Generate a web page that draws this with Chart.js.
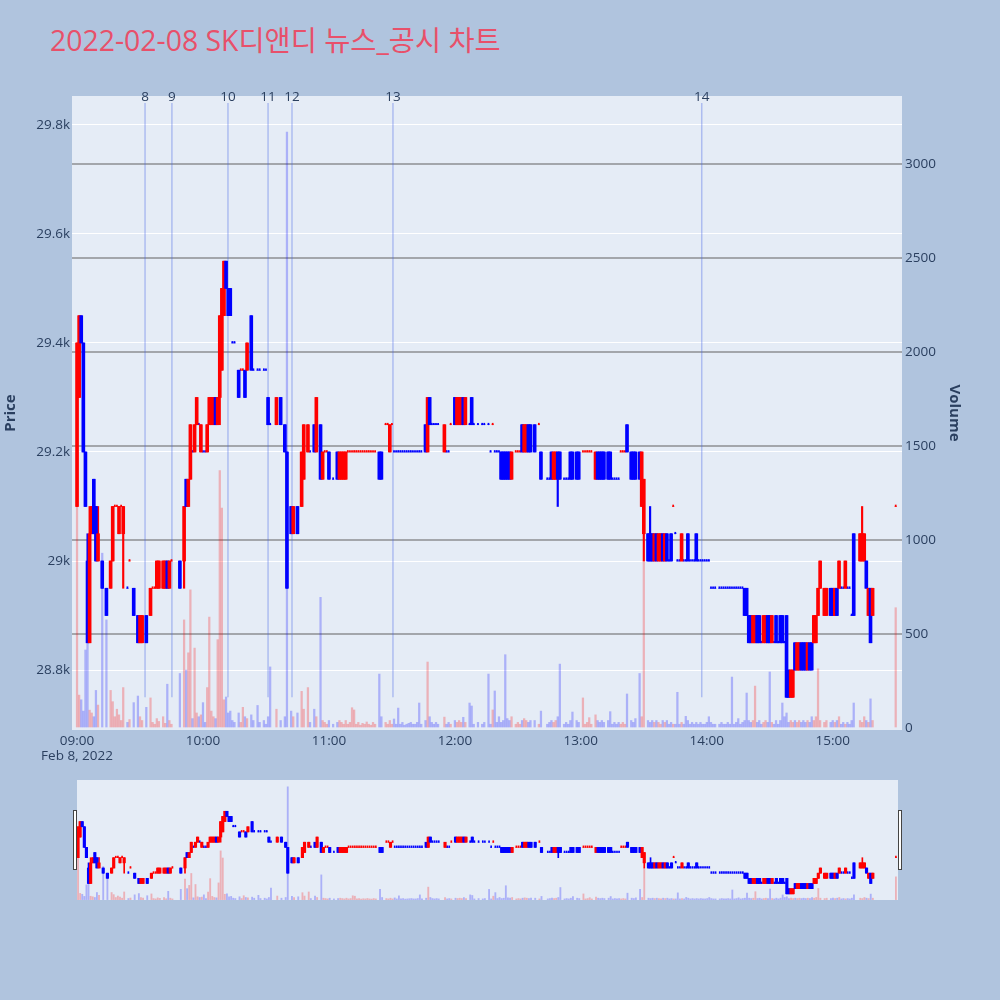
<!DOCTYPE html>
<html>
<head>
<meta charset="utf-8">
<script src="https://cdn.jsdelivr.net/npm/chart.js@4.4.0/dist/chart.umd.min.js"></script>
<style>
  body { margin: 0; width: 1000px; height: 1000px; overflow: hidden; position: relative; background: #b0c4de;
         font-family: "Open Sans", "Noto Sans CJK KR", sans-serif; }
  #title { position: absolute; left: 50px; top: 21px; font-size: 28.4px; line-height: 38px; color: #e8506a; white-space: nowrap; }
  #main { position: absolute; left: 0; top: 0; }
  #slider { position: absolute; left: 67px; top: 780px; }
</style>
</head>
<body>
<div id="title">2022-02-08 SK디앤디 뉴스_공시 차트</div>
<canvas id="main" width="1000" height="780"></canvas>
<canvas id="slider" width="841" height="120"></canvas>
<script>
// minutes after 09:00, one row of 10 candles per line
const minutes = [
  0,1,2,3,4,5,6,7,8,9,
  10,12,14,16,17,18,19,20,21,22,
  24,25,27,29,30,31,33,35,36,37,
  38,39,41,42,43,44,45,49,51,52,
  53,54,55,56,57,58,59,60,61,62,
  63,64,65,66,67,68,69,70,71,72,
  73,74,75,77,78,79,80,81,83,84,
  86,87,89,90,91,92,95,97,99,100,
  102,103,105,107,108,110,111,113,114,116,
  117,118,119,120,122,124,125,126,127,128,
  129,130,131,132,133,134,135,136,137,138,
  139,140,141,142,144,145,147,148,149,150,
  151,152,153,154,155,156,157,158,159,160,
  161,162,163,164,166,167,168,169,170,171,
  172,175,176,177,178,180,181,182,183,184,
  185,187,188,189,191,193,194,196,197,198,
  199,200,201,202,203,204,205,206,207,209,
  210,211,212,213,214,215,216,218,220,221,
  224,225,226,227,228,229,230,232,233,234,
  235,236,238,239,241,242,243,244,245,247,
  248,249,250,251,253,254,255,256,257,258,
  259,260,261,262,264,265,266,268,269,270,
  272,273,274,275,276,277,278,279,280,281,
  282,283,284,285,286,287,288,289,290,291,
  292,293,294,295,296,297,298,299,300,301,
  302,303,304,306,307,308,309,310,311,312,
  313,314,315,316,317,318,319,320,321,322,
  323,324,325,326,327,328,329,330,331,332,
  333,334,335,336,337,338,339,340,341,342,
  343,344,345,346,347,348,349,350,351,352,
  353,354,356,357,359,360,361,362,363,364,
  365,366,367,368,369,370,373,374,375,376,
  377,378,379,390
];
const opens = [
  29100,29300,29450,29400,29200,29000,28850,29050,29150,29100,
  29000,29000,28950,28950,29000,29100,29100,29050,29100,29050,
  28950,29000,28950,28900,28850,28850,28900,28900,28950,28950,
  28950,28950,28950,28950,29000,28950,29000,29000,29000,29150,
  29100,29150,29200,29200,29250,29250,29200,29200,29200,29200,
  29250,29250,29250,29300,29250,29300,29350,29450,29550,29500,
  29500,29400,29400,29350,29350,29350,29350,29350,29450,29350,
  29350,29350,29350,29350,29300,29250,29250,29300,29250,29200,
  29100,29050,29100,29100,29150,29200,29200,29250,29200,29250,
  29150,29200,29200,29200,29150,29200,29150,29150,29150,29150,
  29200,29200,29200,29200,29200,29200,29200,29200,29200,29200,
  29200,29200,29200,29200,29200,29200,29250,29250,29200,29250,
  29200,29200,29200,29200,29200,29200,29200,29200,29200,29200,
  29200,29200,29200,29200,29250,29200,29300,29250,29250,29250,
  29250,29200,29200,29200,29250,29300,29250,29250,29250,29300,
  29250,29250,29300,29250,29250,29250,29250,29250,29200,29250,
  29200,29200,29200,29200,29200,29200,29200,29200,29150,29200,
  29200,29200,29250,29200,29200,29250,29250,29250,29250,29200,
  29150,29150,29200,29150,29150,29200,29200,29150,29150,29150,
  29200,29200,29200,29200,29200,29200,29200,29200,29200,29150,
  29200,29200,29200,29200,29200,29200,29150,29150,29150,29150,
  29200,29200,29200,29250,29200,29200,29200,29200,29100,29050,
  29050,29050,29050,29000,29050,29000,29000,29050,29000,29050,
  29000,29050,29100,29050,29000,29000,29000,29000,29000,29050,
  29000,29000,29000,29050,29000,29000,29000,29000,29000,29000,
  28950,28950,28950,28950,28950,28950,28950,28950,28950,28950,
  28950,28950,28950,28950,28950,28950,28950,28900,28900,28850,
  28850,28900,28900,28850,28850,28850,28900,28900,28850,28850,
  28900,28850,28900,28900,28850,28900,28800,28750,28750,28850,
  28800,28800,28850,28850,28850,28800,28850,28850,28850,28850,
  28900,28950,28900,28900,28950,28950,28900,28950,28950,28950,
  28950,28950,28950,28950,28900,29050,29000,29000,29000,29000,
  28900,28950,28900,29100
];
const highs = [
  29400,29450,29450,29400,29200,29050,29100,29100,29150,29100,
  29100,29000,28950,29000,29100,29100,29100,29100,29100,29100,
  28950,29000,28950,28900,28900,28900,28900,28950,28950,28950,
  29000,29000,29000,29000,29000,29000,29000,29000,29100,29150,
  29150,29250,29200,29250,29300,29250,29250,29200,29200,29250,
  29300,29300,29300,29300,29300,29450,29500,29550,29550,29500,
  29500,29400,29400,29350,29350,29350,29350,29400,29450,29350,
  29350,29350,29350,29350,29300,29250,29300,29300,29250,29200,
  29100,29100,29100,29200,29250,29250,29200,29250,29300,29250,
  29200,29200,29200,29200,29150,29200,29200,29200,29200,29200,
  29200,29200,29200,29200,29200,29200,29200,29200,29200,29200,
  29200,29200,29200,29200,29200,29200,29250,29250,29250,29250,
  29200,29200,29200,29200,29200,29200,29200,29200,29200,29200,
  29200,29200,29200,29200,29250,29300,29300,29250,29250,29250,
  29250,29250,29200,29200,29250,29300,29300,29300,29300,29300,
  29300,29250,29300,29250,29250,29250,29250,29250,29200,29250,
  29200,29200,29200,29200,29200,29200,29200,29200,29200,29200,
  29200,29200,29250,29250,29250,29250,29250,29250,29250,29200,
  29150,29150,29200,29200,29200,29200,29200,29150,29150,29150,
  29200,29200,29200,29200,29200,29200,29200,29200,29200,29200,
  29200,29200,29200,29200,29200,29200,29150,29150,29150,29150,
  29200,29200,29200,29250,29200,29200,29200,29200,29200,29150,
  29050,29100,29050,29050,29050,29050,29050,29050,29050,29050,
  29000,29050,29100,29050,29000,29000,29050,29000,29000,29050,
  29000,29000,29000,29050,29000,29000,29000,29000,29000,29000,
  28950,28950,28950,28950,28950,28950,28950,28950,28950,28950,
  28950,28950,28950,28950,28950,28950,28950,28900,28900,28900,
  28900,28900,28900,28850,28900,28900,28900,28900,28900,28850,
  28900,28850,28900,28900,28850,28900,28800,28800,28800,28850,
  28850,28850,28850,28850,28850,28850,28850,28850,28900,28900,
  28950,29000,28950,28950,28950,28950,28950,28950,29000,28950,
  28950,29000,28950,28950,28900,29050,29050,29100,29050,29000,
  28950,28950,28950,29100
];
const lows = [
  29100,29300,29400,29200,29100,28850,28850,29050,29050,29000,
  29000,28950,28900,28950,29000,29100,29100,29050,29100,28950,
  28950,29000,28900,28850,28850,28850,28850,28900,28950,28950,
  28950,28950,28950,28950,28950,28950,29000,28950,28950,29100,
  29100,29150,29200,29200,29250,29250,29200,29200,29200,29200,
  29250,29250,29250,29250,29250,29250,29350,29450,29500,29450,
  29450,29400,29400,29300,29350,29350,29300,29350,29350,29350,
  29350,29350,29350,29350,29250,29250,29250,29250,29200,28950,
  29050,29050,29050,29100,29150,29200,29200,29200,29200,29150,
  29150,29200,29200,29150,29150,29150,29150,29150,29150,29150,
  29200,29200,29200,29200,29200,29200,29200,29200,29200,29200,
  29200,29200,29200,29200,29150,29150,29250,29250,29200,29250,
  29200,29200,29200,29200,29200,29200,29200,29200,29200,29200,
  29200,29200,29200,29200,29200,29200,29250,29250,29250,29250,
  29250,29200,29200,29200,29250,29250,29250,29250,29250,29250,
  29250,29250,29250,29250,29250,29250,29250,29250,29200,29250,
  29200,29200,29200,29150,29150,29150,29150,29150,29150,29200,
  29200,29200,29200,29200,29200,29200,29200,29200,29250,29150,
  29150,29150,29150,29150,29150,29100,29150,29150,29150,29150,
  29150,29150,29150,29150,29200,29200,29200,29200,29200,29150,
  29150,29150,29150,29150,29150,29150,29150,29150,29150,29150,
  29200,29200,29200,29200,29150,29150,29150,29150,29100,29000,
  29000,29000,29000,29000,29000,29000,29000,29000,29000,29000,
  29000,29000,29100,29050,29000,29000,29000,29000,29000,29000,
  29000,29000,29000,29000,29000,29000,29000,29000,29000,29000,
  28950,28950,28950,28950,28950,28950,28950,28950,28950,28950,
  28950,28950,28950,28950,28950,28900,28900,28850,28850,28850,
  28850,28850,28850,28850,28850,28850,28850,28850,28850,28850,
  28850,28850,28850,28850,28850,28750,28750,28750,28750,28800,
  28800,28800,28800,28800,28800,28800,28800,28800,28850,28850,
  28900,28950,28900,28900,28900,28900,28900,28900,28950,28950,
  28950,28950,28950,28950,28900,28900,29000,29000,29000,28950,
  28900,28850,28900,29100
];
const closes = [
  29400,29450,29400,29200,29100,28850,29050,29100,29050,29000,
  29050,28950,28900,29000,29100,29100,29100,29100,29100,29100,
  28950,29000,28900,28850,28900,28900,28850,28950,28950,28950,
  29000,29000,29000,29000,28950,29000,29000,28950,29100,29100,
  29150,29250,29200,29250,29300,29250,29250,29200,29200,29250,
  29300,29300,29300,29250,29300,29450,29500,29550,29500,29450,
  29450,29400,29400,29300,29350,29350,29300,29400,29350,29350,
  29350,29350,29350,29350,29250,29250,29300,29250,29200,28950,
  29050,29100,29050,29200,29250,29250,29200,29200,29300,29150,
  29200,29200,29200,29150,29150,29150,29200,29200,29200,29200,
  29200,29200,29200,29200,29200,29200,29200,29200,29200,29200,
  29200,29200,29200,29200,29150,29150,29250,29250,29250,29250,
  29200,29200,29200,29200,29200,29200,29200,29200,29200,29200,
  29200,29200,29200,29200,29200,29300,29250,29250,29250,29250,
  29250,29250,29200,29200,29250,29250,29300,29300,29300,29250,
  29300,29250,29250,29250,29250,29250,29250,29250,29200,29250,
  29200,29200,29200,29150,29150,29150,29150,29150,29200,29200,
  29200,29200,29200,29250,29250,29200,29200,29200,29250,29150,
  29150,29150,29150,29200,29200,29150,29150,29150,29150,29150,
  29150,29150,29150,29150,29200,29200,29200,29200,29200,29200,
  29150,29150,29150,29150,29150,29150,29150,29150,29150,29150,
  29200,29200,29200,29200,29150,29150,29150,29150,29200,29150,
  29000,29000,29000,29050,29000,29050,29050,29000,29050,29000,
  29000,29000,29100,29050,29000,29000,29050,29000,29000,29000,
  29000,29000,29000,29000,29000,29000,29000,29000,29000,29000,
  28950,28950,28950,28950,28950,28950,28950,28950,28950,28950,
  28950,28950,28950,28950,28950,28900,28900,28850,28850,28900,
  28900,28850,28850,28850,28900,28900,28850,28850,28900,28850,
  28850,28850,28850,28850,28850,28750,28750,28800,28800,28800,
  28850,28850,28800,28800,28800,28850,28800,28800,28900,28900,
  28950,29000,28950,28950,28900,28900,28950,28900,29000,28950,
  28950,29000,28950,28950,28900,28900,29050,29050,29050,28950,
  28950,28850,28950,29100
];
const volumes = [
  1180,175,150,90,415,560,95,80,60,200,
  122,930,575,200,140,60,100,70,40,215,
  30,45,135,170,60,40,110,160,30,20,
  50,35,60,25,233,40,20,290,575,308,
  400,735,50,425,80,60,70,135,30,215,
  590,90,60,50,470,1370,1170,150,165,80,
  90,40,30,80,30,110,60,50,70,40,
  120,30,40,20,60,325,100,40,60,3170,
  90,60,80,195,100,215,30,100,60,695,
  40,30,20,40,20,30,40,30,20,40,
  20,30,108,96,20,30,15,25,20,32,
  20,15,30,20,287,60,30,20,40,20,
  48,20,106,20,30,15,20,25,30,20,
  20,30,133,20,40,351,60,30,20,30,
  20,58,20,30,20,40,30,40,30,57,
  30,133,117,20,30,20,30,287,20,96,
  197,30,60,30,40,390,50,40,60,20,
  30,20,40,50,40,30,40,40,20,90,
  20,30,40,30,40,60,340,20,30,20,
  40,85,40,30,160,20,30,55,20,70,
  40,30,40,30,40,87,20,30,20,30,
  20,30,20,181,40,30,50,290,60,890,
  40,30,40,30,40,30,20,40,30,40,
  20,30,20,20,190,20,30,20,62,40,
  20,30,20,30,20,30,20,20,30,60,
  30,20,20,20,30,20,20,30,20,271,
  20,30,50,20,30,40,186,40,30,40,
  223,30,40,20,30,40,30,298,30,20,
  40,20,40,133,60,80,30,40,30,40,
  30,40,30,40,30,40,30,60,40,60,
  315,40,30,40,30,40,30,40,60,20,
  30,20,30,20,40,133,40,30,60,40,
  30,155,40,640
];

// news / disclosure markers (minute after 09:00, label)
const newsMinutes = [32.4, 45.2, 71.9, 91, 102.4, 150.5, 297.6];
const newsLabels = ['8', '9', '10', '11', '12', '13', '14'];
const newsTop = 29840, newsBottom = 28750;

const tickMinutes = [0, 60, 120, 180, 240, 300, 360];
const tickLabels = ['09:00', '10:00', '11:00', '12:00', '13:00', '14:00', '15:00'];
const dateLabel = 'Feb 8, 2022';
const priceTicks = [28800, 29000, 29200, 29400, 29600, 29800];
const priceTickLabels = ['28.8k', '29k', '29.2k', '29.4k', '29.6k', '29.8k'];
const volTicks = [0, 500, 1000, 1500, 2000, 2500, 3000];
const volTickLabels = ['0', '500', '1000', '1500', '2000', '2500', '3000'];

const priceMin = 28690, priceMax = 29853;
const volMin = -10.6, volMax = 3362;

const axisColor = '#2a3f5f';
const fontFamily = '"Open Sans", "Noto Sans CJK KR", sans-serif';
const tickSize = 13.5;

// plotly style: a doji takes its direction from the previous close
const isUp = [];
for (let i = 0; i < minutes.length; i++) {
  let up;
  if (closes[i] > opens[i]) up = true;
  else if (closes[i] < opens[i]) up = false;
  else if (i === 0) up = true;
  else if (closes[i] > closes[i - 1]) up = true;
  else if (closes[i] < closes[i - 1]) up = false;
  else up = isUp[i - 1];
  isUp.push(up);
}
const colorOf = i => isUp[i] ? '#ff0000' : '#0000ff';
const idxAll = minutes.map((m, i) => i);
const idxBody = idxAll.filter(i => opens[i] !== closes[i]);
const idxDoji = idxAll.filter(i => opens[i] === closes[i]);

function buildDatasets(bodyW, dojiW, wickW, volW) {
  return [
    {
      label: 'body',
      data: idxBody.map(i => ({ x: minutes[i], y: [opens[i], closes[i]] })),
      backgroundColor: idxBody.map(colorOf),
      barThickness: bodyW,
      grouped: false,
      yAxisID: 'y'
    },
    {
      label: 'doji',
      data: idxDoji.map(i => ({ x: minutes[i], y: [opens[i], closes[i]] })),
      backgroundColor: idxDoji.map(colorOf),
      barThickness: dojiW,
      minBarLength: 1.5,
      grouped: false,
      yAxisID: 'y'
    },
    {
      label: 'wick',
      data: idxAll.map(i => ({ x: minutes[i], y: [lows[i], highs[i]] })),
      backgroundColor: idxAll.map(colorOf),
      barThickness: wickW,
      grouped: false,
      yAxisID: 'y'
    },
    {
      label: 'volume',
      data: idxAll.map(i => ({ x: minutes[i], y: volumes[i] })),
      backgroundColor: idxAll.map(i => isUp[i] ? 'rgba(255,0,0,0.25)' : 'rgba(0,0,255,0.25)'),
      barThickness: volW,
      grouped: false,
      yAxisID: 'yv'
    }
  ];
}

const plotBg = {
  id: 'plotBg',
  beforeDraw(chart) {
    const { ctx, chartArea: a } = chart;
    ctx.save();
    ctx.fillStyle = '#e5ecf6';
    ctx.fillRect(a.left, a.top, a.right - a.left, a.bottom - a.top);
    ctx.restore();
  }
};

const newsLines = {
  id: 'newsLines',
  beforeDatasetsDraw(chart) {
    const { ctx, scales } = chart;
    const yTop = scales.y.getPixelForValue(newsTop);
    const yBot = scales.y.getPixelForValue(newsBottom);
    ctx.save();
    ctx.strokeStyle = 'rgba(70,100,230,0.35)';
    ctx.lineWidth = 1.5;
    newsMinutes.forEach(m => {
      const x = scales.x.getPixelForValue(m);
      ctx.beginPath();
      ctx.moveTo(x, yTop);
      ctx.lineTo(x, yBot);
      ctx.stroke();
    });
    ctx.restore();
  },
  afterDraw(chart) {
    const { ctx, scales, chartArea } = chart;
    ctx.save();
    ctx.fillStyle = axisColor;
    ctx.font = tickSize + 'px ' + fontFamily;
    ctx.textAlign = 'center';
    ctx.textBaseline = 'middle';
    newsMinutes.forEach((m, i) => {
      ctx.fillText(newsLabels[i], scales.x.getPixelForValue(m), chartArea.top + 1);
    });
    ctx.restore();
  }
};

const sliderHandles = {
  id: 'sliderHandles',
  afterDraw(chart) {
    const { ctx, chartArea: a } = chart;
    ctx.save();
    ctx.fillStyle = '#ffffff';
    ctx.strokeStyle = '#444444';
    ctx.lineWidth = 1;
    [a.left - 4, a.right].forEach(x => {
      ctx.fillRect(x + 0.5, 30.5, 3, 59);
      ctx.strokeRect(x + 0.5, 30.5, 3, 59);
    });
    ctx.restore();
  }
};

new Chart(document.getElementById('main').getContext('2d'), {
  type: 'bar',
  data: { datasets: buildDatasets(3, 1.1, 1.5, 1.6) },
  options: {
    responsive: false,
    animation: false,
    layout: { padding: { top: 96, right: 30, bottom: 0, left: 0 } },
    plugins: { legend: { display: false }, tooltip: { enabled: false } },
    scales: {
      x: {
        type: 'linear', min: -2.4, max: 393, offset: false,
        grid: { display: false, drawTicks: false },
        border: { display: false },
        afterBuildTicks: s => { s.ticks = tickMinutes.map(v => ({ value: v })); },
        afterFit: s => { s.height = 50; },
        ticks: {
          autoSkip: false, maxRotation: 0, padding: 4, color: axisColor,
          font: { family: fontFamily, size: tickSize, lineHeight: 1.1 },
          callback: (v, i) => i === 0 ? [tickLabels[i], dateLabel] : tickLabels[i]
        }
      },
      y: {
        position: 'left', min: priceMin, max: priceMax,
        grid: { color: '#ffffff', lineWidth: 1, drawTicks: false },
        border: { display: false },
        afterBuildTicks: s => { s.ticks = priceTicks.map(v => ({ value: v })); },
        afterFit: s => { s.width = 72; },
        ticks: { padding: 2, color: axisColor, font: { family: fontFamily, size: tickSize },
                 callback: (v, i) => priceTickLabels[i] },
        title: { display: true, text: 'Price', color: axisColor, padding: { top: 2, bottom: 0 },
                 font: { family: fontFamily, size: 15, weight: 'bold' } }
      },
      yv: {
        position: 'right', min: volMin, max: volMax,
        grid: { color: c => (c.tick && c.tick.value === 0) ? 'rgba(0,0,0,0)' : 'rgba(110,110,110,0.55)',
                lineWidth: 2, drawTicks: false },
        border: { display: false },
        afterBuildTicks: s => { s.ticks = volTicks.map(v => ({ value: v })); },
        afterFit: s => { s.width = 68; },
        ticks: { padding: 3, color: axisColor, font: { family: fontFamily, size: tickSize },
                 callback: (v, i) => volTickLabels[i] },
        title: { display: true, text: 'Volume', color: axisColor, padding: { top: 7, bottom: 0 },
                 font: { family: fontFamily, size: 15, weight: 'bold' } }
      }
    }
  },
  plugins: [plotBg, newsLines]
});

new Chart(document.getElementById('slider').getContext('2d'), {
  type: 'bar',
  data: { datasets: buildDatasets(2.5, 1, 1, 1.2) },
  options: {
    responsive: false,
    animation: false,
    layout: { padding: { top: 0, right: 10, bottom: 0, left: 10 } },
    plugins: { legend: { display: false }, tooltip: { enabled: false } },
    scales: {
      x: { type: 'linear', min: -0.5, max: 391, offset: false, display: false },
      y: { min: priceMin, max: priceMax, display: false },
      yv: { position: 'right', min: volMin, max: volMax, display: false }
    }
  },
  plugins: [plotBg, sliderHandles]
});
</script>
</body>
</html>
